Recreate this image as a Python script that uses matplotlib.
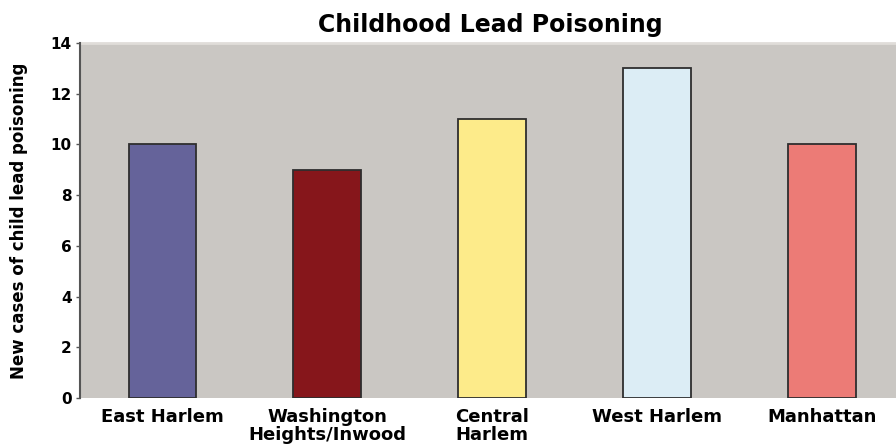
import matplotlib
matplotlib.use("Agg")
import matplotlib.pyplot as plt

# Childhood lead poisoning, new cases by neighbourhood
areas = ["East Harlem", "Washington\nHeights/Inwood", "Central\nHarlem",
         "West Harlem", "Manhattan"]
cases = [10, 9, 11, 13, 10]
colors = ["#65639a", "#86161b", "#fdeb8a", "#dcedf5", "#ec7b76"]
yticks = [0, 2, 4, 6, 8, 10, 12, 14]

plt.rcParams['font.family'] = ['DejaVu Sans']

fig = plt.figure(figsize=(8.96, 4.47), dpi=100)
ax = fig.add_axes([0.0893, 0.1096, 0.9107, 0.7942])
ax.set_facecolor("#cac7c3")

x = range(len(areas))
ax.bar(x, cases, width=0.41, color=colors, edgecolor="#2e2e2e", linewidth=1.3)

ax.set_xlim(-0.5, 4.45)
ax.set_ylim(0, 14)
ax.set_yticks(yticks)
ax.set_yticklabels([str(t) for t in yticks], fontsize=11, fontweight='bold')
ax.set_xticks(list(x))
ax.set_xticklabels(areas, fontsize=13, fontweight='bold', va='top',
                   multialignment='center', linespacing=1.05)
ax.tick_params(axis='x', length=0, pad=7)
ax.tick_params(axis='y', length=3, width=1, color="#555555", pad=3)

for side in ['top', 'right', 'bottom']:
    ax.spines[side].set_visible(False)
ax.spines['left'].set_color("#555555")
ax.spines['left'].set_linewidth(1.5)
ax.axhline(14, color="#e0ddd9", linewidth=2, clip_on=False)

ax.set_ylabel("New cases of child lead poisoning", fontsize=12,
              fontweight='bold', labelpad=16)
ax.set_title("Childhood Lead Poisoning", fontsize=17, fontweight='bold', pad=8,
             x=(490 - 80) / (896 - 80))

fig.savefig("out.png", dpi=100)
